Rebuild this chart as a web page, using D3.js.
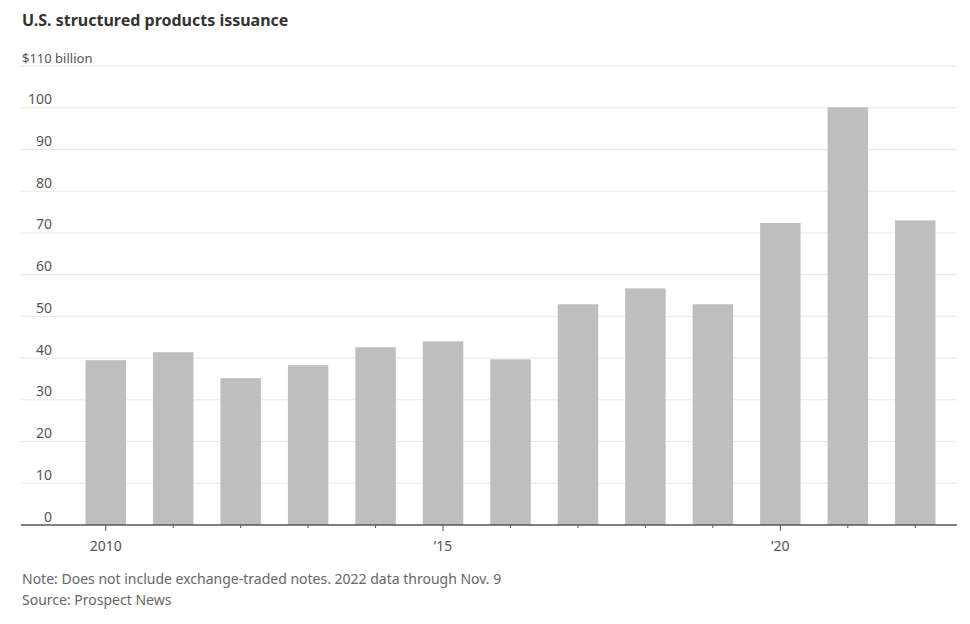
<!DOCTYPE html>
<html>
<head>
<meta charset="utf-8">
<script src="https://cdn.jsdelivr.net/npm/d3@7"></script>
<style>
  body { margin: 0; background: #fff; }
  text { font-family: "Noto Sans", sans-serif; }
</style>
</head>
<body>
<div class="main"></div>
<script>
// Issuance by year, $ billion
const years = [2010, 2011, 2012, 2013, 2014, 2015, 2016, 2017, 2018, 2019, 2020, 2021, 2022]
const issuance = [39.5, 41.4, 35.2, 38.3, 42.6, 44.0, 39.7, 52.9, 56.7, 52.9, 72.4, 100.1, 73.0]
const yTicks = [0, 10, 20, 30, 40, 50, 60, 70, 80, 90, 100, 110]
const xLabels = {2010: "2010", 2015: "\u201915", 2020: "\u201920"}

const width = 970
const height = 624
const margin = ({top: 66, right: 13, bottom: 99, left: 21})

const svg = d3.select(".main")
  .append("svg")
  .attr("width", width)
  .attr("height", height)

const xScale = d3.scaleBand()
  .domain(years)
  .range([72, 949])
  .paddingInner(0.4)
  .paddingOuter(0.2)

const yScale = d3.scaleLinear()
  .domain([0, 110])
  .range([height - margin.bottom, margin.top])

// title
svg.append("text")
  .text("U.S. structured products issuance")
  .attr("x", 22)
  .attr("y", 26)
  .attr("font-size", 16)
  .attr("font-weight", "bold")
  .attr("fill", "#333")

// gridlines
svg.append("g")
  .selectAll("line")
  .data(yTicks.slice(1))
  .join("line")
    .attr("x1", margin.left)
    .attr("x2", width - margin.right)
    .attr("y1", d => yScale(d))
    .attr("y2", d => yScale(d))
    .attr("stroke", "#e8e8e8")
    .attr("stroke-width", 1)

// y labels
svg.append("g")
  .selectAll("text")
  .data(yTicks)
  .join("text")
    .text(d => d == 110 ? "$110 billion" : d)
    .attr("x", d => d == 110 ? 22 : 52)
    .attr("y", d => yScale(d) - 3.5)
    .attr("text-anchor", d => d == 110 ? "start" : "end")
    .attr("font-size", d => d == 110 ? 13 : 14)
    .attr("fill", "#555")

// bars
svg.append("g")
  .selectAll("rect")
  .data(years)
  .join("rect")
    .attr("x", d => xScale(d))
    .attr("y", (d, i) => yScale(issuance[i]))
    .attr("width", xScale.bandwidth())
    .attr("height", (d, i) => yScale(0) - yScale(issuance[i]))
    .attr("fill", "#bebebe")

// baseline
svg.append("line")
  .attr("x1", margin.left)
  .attr("x2", width - margin.right)
  .attr("y1", yScale(0))
  .attr("y2", yScale(0))
  .attr("stroke", "#555")
  .attr("stroke-width", 1.5)

// ticks
svg.append("g")
  .selectAll("line")
  .data(years)
  .join("line")
    .attr("x1", d => xScale(d) + xScale.bandwidth() / 2)
    .attr("x2", d => xScale(d) + xScale.bandwidth() / 2)
    .attr("y1", yScale(0))
    .attr("y2", d => yScale(0) + (xLabels[d] ? 6 : 3))
    .attr("stroke", "#555")
    .attr("stroke-width", 1)

// x labels
svg.append("g")
  .selectAll("text")
  .data(years.filter(d => xLabels[d]))
  .join("text")
    .text(d => xLabels[d])
    .attr("x", d => xScale(d) + xScale.bandwidth() / 2)
    .attr("y", 551)
    .attr("text-anchor", "middle")
    .attr("font-size", 14)
    .attr("fill", "#555")

// notes
svg.append("text")
  .text("Note: Does not include exchange-traded notes. 2022 data through Nov. 9")
  .attr("x", 22)
  .attr("y", 584)
  .attr("font-size", 14)
  .attr("fill", "#666")

svg.append("text")
  .text("Source: Prospect News")
  .attr("x", 22)
  .attr("y", 605)
  .attr("font-size", 14)
  .attr("fill", "#666")
</script>
</body>
</html>
